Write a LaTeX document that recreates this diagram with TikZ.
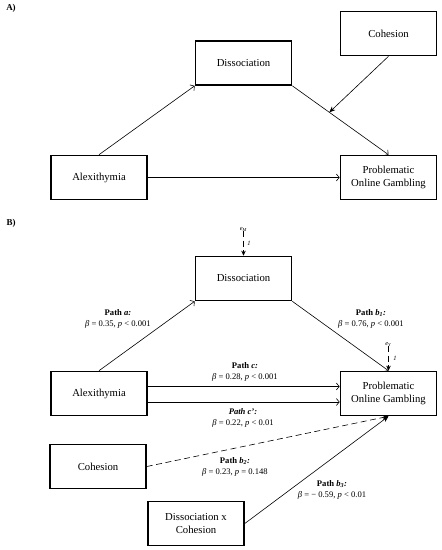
\documentclass[tikz,border=0pt]{standalone}
\usepackage{fontspec}
\setmainfont{Liberation Serif}
\usetikzlibrary{arrows.meta,calc}
\begin{document}
\begin{tikzpicture}[x=1pt,y=-1pt,
  box/.style={draw, line width=1.6pt, minimum width=96pt, minimum height=44pt, align=center, font=\fontsize{10.7}{12.5}\selectfont, inner sep=1pt},
  conn/.style={line width=0.6pt, -{Straight Barb[length=3pt,width=7pt]}},
  mod/.style={line width=0.6pt, -{Stealth[length=6pt,width=5pt]}},
  dsh/.style={dash pattern=on 6pt off 3.5pt},
  lbl/.style={align=center, font=\fontsize{8.6}{11}\selectfont, inner sep=0pt},
  tiny/.style={font=\fontsize{6.5}{7}\selectfont, inner sep=0pt},
  panel/.style={font=\bfseries\fontsize{9}{10}\selectfont, inner sep=0pt}]
\useasboundingbox (0,0) rectangle (442,550);
% Panel A
\node[panel] (pa) at (11,8) {A)};
\node[box] (cohA) at (388.5,33.5) {Cohesion};
\node[box] (disA) at (243.5,63) {Dissociation};
\node[box] (alexA) at (99,177.5) {Alexithymia};
\node[box] (probA) at (388.5,177.5) {Problematic\\Online Gambling};
\draw[conn] (alexA.north) -- (disA.south west);
\draw[conn] (disA.south east) -- (probA.north);
\coordinate (modA) at ($(disA.south east)!0.385!(probA.north)$);
\draw[mod] (cohA.south) -- (modA);
\draw[conn] (alexA) -- (probA);
% Panel B
\node[panel] (pb) at (11,223) {B)};
\node[box] (disB) at (243.5,278.5) {Dissociation};
\node[box] (alexB) at (99,393.5) {Alexithymia};
\node[box] (probB) at (388.5,393.5) {Problematic\\Online Gambling};
\node[box] (cohB) at (98,466.5) {Cohesion};
\node[box] (dxc) at (196,523.5) {Dissociation x\\Cohesion};
\node[tiny] (eM) at (243.5,229) {\textit{e}\textsubscript{\textit{M}}};
\node[tiny] (oneM) at (249,243) {\textit{1}};
\draw[dsh, line width=0.6pt, -{Stealth[length=5pt,width=4.5pt]}] (eM) -- (disB.north);
\node[tiny] (eY) at (388.5,344) {\textit{e}\textsubscript{\textit{Y}}};
\node[tiny] (oneY) at (395,358) {\textit{1}};
\draw[dsh, line width=0.6pt, -{Stealth[length=5pt,width=4.5pt]}] (eY) -- (probB.north);
\draw[conn] (alexB.north) -- (disB.south west);
\draw[conn] (disB.south east) -- (probB.north);
\draw[conn] ([yshift=7pt]alexB.east) -- ([yshift=7pt]probB.west);
\draw[conn] ([yshift=-8.5pt]alexB.east) -- ([yshift=-8.5pt]probB.west);
\draw[mod, dsh] (cohB.east) -- (probB.south);
\draw[mod] (dxc.east) -- (probB.south);
\node[lbl] (la) at (118,319) {\textbf{Path \textit{a:}}\\\textit{β} = 0.35, \textit{p} < 0.001};
\node[lbl] (lb1) at (371,319) {\textbf{Path \textit{b}\textsubscript{\textit{1}}\textit{:}}\\\textit{β} = 0.76, \textit{p} < 0.001};
\node[lbl] (lc) at (245,372) {\textbf{Path \textit{c:}}\\\textit{β} = 0.28, \textit{p} < 0.001};
\node[lbl] (lcp) at (243,417.5) {\textbf{\textit{Path c':}}\\\textit{β} = 0.22, \textit{p} < 0.01};
\node[lbl] (lb2) at (235,466.5) {\textbf{Path \textit{b}\textsubscript{\textit{2}}\textit{:}}\\\textit{β} = 0.23, \textit{p} = 0.148};
\node[lbl] (lb3) at (332,489.5) {\textbf{Path \textit{b}\textsubscript{\textit{3}}\textit{:}}\\\textit{β} = − 0.59, \textit{p} < 0.01};
\end{tikzpicture}
\end{document}
